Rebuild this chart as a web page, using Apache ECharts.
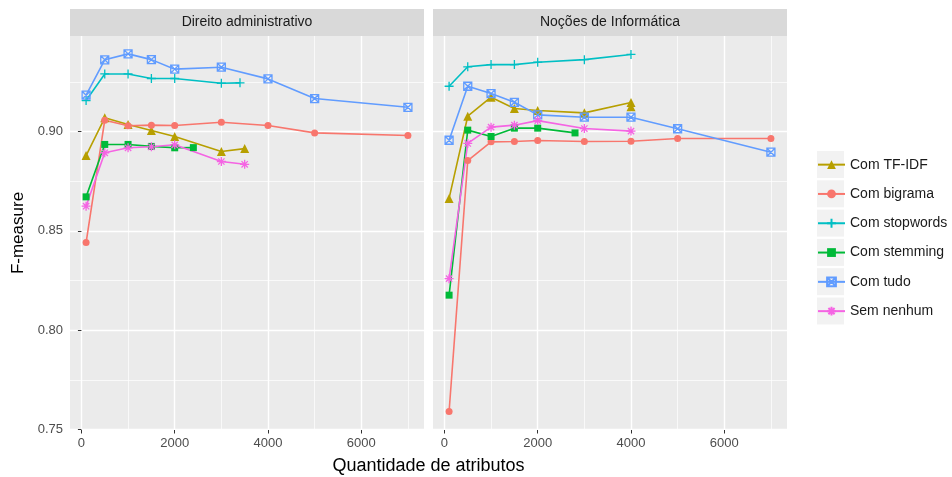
<!DOCTYPE html>
<html>
<head>
<meta charset="utf-8">
<script src="https://cdn.jsdelivr.net/npm/echarts@6/dist/echarts.min.js"></script>
<style>
  html, body { margin: 0; padding: 0; background: #fff; }
  #chart { width: 952px; height: 477px; }
</style>
</head>
<body>
<div id="chart"></div>
<script>
// Facet titles, legend order and tick positions
const panels = ['Direito administrativo', 'Noções de Informática'];
const seriesNames = ['Com TF-IDF', 'Com bigrama', 'Com stopwords', 'Com stemming', 'Com tudo', 'Sem nenhum'];
const xMajorTicks = [0, 2000, 4000, 6000];
const xMinorTicks = [1000, 3000, 5000, 7000];
const yMajorTicks = [0.75, 0.80, 0.85, 0.90];
const yMinorTicks = [0.775, 0.825, 0.875, 0.925];

// Direito administrativo: [quantidade de atributos, F-measure]
const direitoTfidf = [[100, 0.8879], [500, 0.9069], [1000, 0.9035], [1500, 0.9005], [2000, 0.8975], [3000, 0.8899], [3500, 0.8914]];
const direitoBigrama = [[100, 0.8441], [500, 0.9057], [1000, 0.9029], [1500, 0.9032], [2000, 0.9030], [3000, 0.9047], [4000, 0.9030], [5000, 0.8993], [7000, 0.8980]];
const direitoStopwords = [[100, 0.9156], [500, 0.9290], [1000, 0.9290], [1500, 0.9267], [2000, 0.9267], [3000, 0.9243], [3400, 0.9245]];
const direitoStemming = [[100, 0.8671], [500, 0.8935], [1000, 0.8935], [1500, 0.8925], [2000, 0.8918], [2400, 0.8919]];
const direitoTudo = [[100, 0.9183], [500, 0.9361], [1000, 0.9391], [1500, 0.9362], [2000, 0.9314], [3000, 0.9324], [4000, 0.9265], [5000, 0.9166], [7000, 0.9122]];
const direitoNenhum = [[100, 0.8624], [500, 0.8893], [1000, 0.8918], [1500, 0.8923], [2000, 0.8933], [3000, 0.8849], [3500, 0.8835]];

// Noções de Informática
const nocoesTfidf = [[100, 0.8663], [500, 0.9077], [1000, 0.9173], [1500, 0.9116], [2000, 0.9106], [3000, 0.9094], [4000, 0.9146], [4000, 0.9125]];
const nocoesBigrama = [[100, 0.7590], [500, 0.8854], [1000, 0.8948], [1500, 0.8950], [2000, 0.8955], [3000, 0.8950], [4000, 0.8951], [5000, 0.8965], [7000, 0.8965]];
const nocoesStopwords = [[100, 0.9228], [500, 0.9326], [1000, 0.9337], [1500, 0.9337], [2000, 0.9349], [3000, 0.9362], [4000, 0.9388]];
const nocoesStemming = [[100, 0.8176], [500, 0.9007], [1000, 0.8975], [1500, 0.9017], [2000, 0.9017], [2800, 0.8993]];
const nocoesTudo = [[100, 0.8956], [500, 0.9228], [1000, 0.9191], [1500, 0.9147], [2000, 0.9084], [3000, 0.9072], [4000, 0.9072], [5000, 0.9014], [7000, 0.8896]];
const nocoesNenhum = [[100, 0.8259], [500, 0.8940], [1000, 0.9022], [1500, 0.9032], [2000, 0.9055], [3000, 0.9015], [4000, 0.9002]];

const panelData = [
  [direitoTfidf, direitoBigrama, direitoStopwords, direitoStemming, direitoTudo, direitoNenhum],
  [nocoesTfidf, nocoesBigrama, nocoesStopwords, nocoesStemming, nocoesTudo, nocoesNenhum]
];

const colors = ['#B79F00', '#F8766D', '#00BFC4', '#00BA38', '#619CFF', '#F564E3'];
const FONT = '"Liberation Sans", Arial, sans-serif';

// marker styles per series (ggplot-like shapes)
const markers = [
  { symbol: 'triangle', size: 9, outline: false },
  { symbol: 'circle', size: 7, outline: false },
  { symbol: 'path://M5,0L5,10M0,5L10,5', size: 9, outline: true },
  { symbol: 'rect', size: 7, outline: false },
  { symbol: 'path://M0,0L10,0L10,10L0,10ZM0,0L10,10M10,0L0,10', size: 8, outline: true },
  { symbol: 'path://M5,0L5,10M0,5L10,5M1.5,1.5L8.5,8.5M8.5,1.5L1.5,8.5', size: 9, outline: true }
];

const X_MIN = -245, X_MAX = 7345;
const Y_MIN = 0.7497, Y_MAX = 0.9481;

const gridLeft = [70, 433];
const gridTop = 36, gridW = 354, gridH = 394;

const grids = [], xAxes = [], yAxes = [], series = [];
panels.forEach((p, i) => {
  grids.push({ left: gridLeft[i], top: gridTop, width: gridW, height: gridH, show: true, backgroundColor: '#EBEBEB', borderWidth: 0 });
  grids.push({ left: gridLeft[i], top: gridTop, width: gridW, height: gridH, show: false });
});

panels.forEach((p, i) => {
  const gMajor = i * 2, gMinor = i * 2 + 1;
  // minor grid axes
  xAxes.push({
    gridIndex: gMinor, type: 'value', min: X_MIN, max: X_MAX,
    axisLine: { show: false }, axisLabel: { show: false },
    axisTick: { show: false, customValues: xMinorTicks },
    splitLine: { show: true, lineStyle: { color: '#FFFFFF', width: 0.7 } }, z: 0
  });
  yAxes.push({
    gridIndex: gMinor, type: 'value', min: Y_MIN, max: Y_MAX,
    axisLine: { show: false }, axisLabel: { show: false },
    axisTick: { show: false, customValues: yMinorTicks },
    splitLine: { show: true, lineStyle: { color: '#FFFFFF', width: 0.7 } }, z: 0
  });
  // major axes with ticks and labels
  xAxes.push({
    gridIndex: gMajor, type: 'value', min: X_MIN, max: X_MAX,
    axisLine: { show: false },
    axisTick: { show: true, length: 3.5, customValues: xMajorTicks, lineStyle: { color: '#333333', width: 1 } },
    axisLabel: { show: true, customValues: xMajorTicks, color: '#4D4D4D', fontSize: 13, fontFamily: FONT, margin: 7,
      formatter: v => String(v) },
    splitLine: { show: true, lineStyle: { color: '#FFFFFF', width: 1.4 } }
  });
  yAxes.push({
    gridIndex: gMajor, type: 'value', min: Y_MIN, max: Y_MAX,
    axisLine: { show: false },
    axisTick: { show: i === 0, length: 3.5, customValues: yMajorTicks, lineStyle: { color: '#333333', width: 1 } },
    axisLabel: { show: i === 0, customValues: yMajorTicks, color: '#4D4D4D', fontSize: 13, fontFamily: FONT, margin: 7,
      formatter: v => v.toFixed(2) },
    splitLine: { show: true, lineStyle: { color: '#FFFFFF', width: 1.4 } }
  });
});

// axes are ordered [minor0, major0, minor1, major1]
panels.forEach((p, i) => {
  const axisIdx = i * 2 + 1;
  panelData[i].forEach((data, k) => {
    const m = markers[k];
    series.push({
      name: seriesNames[k],
      type: 'line',
      xAxisIndex: axisIdx,
      yAxisIndex: axisIdx,
      data: data,
      symbol: m.symbol,
      symbolSize: m.size,
      showAllSymbol: true,
      animation: false,
      lineStyle: { color: colors[k], width: 1.6 },
      itemStyle: m.outline
        ? { color: 'rgba(0,0,0,0)', borderColor: colors[k], borderWidth: 1.3 }
        : { color: colors[k], borderWidth: 0 },
      emphasis: { disabled: true },
      z: 3
    });
  });
});

// legend key backgrounds
const keyTop = 151, keyStep = 29.3, keyLeft = 817, keySize = 27;
const keyRects = seriesNames.map((n, k) => ({
  type: 'rect', left: keyLeft, top: keyTop + k * keyStep, z: 0,
  shape: { width: keySize, height: keySize }, style: { fill: '#F2F2F2' }, silent: true
}));

const stripTop = 9;
const stripRects = panels.map((p, i) => ({
  type: 'rect', left: gridLeft[i], top: stripTop, z: 1,
  shape: { width: gridW, height: gridTop - stripTop }, style: { fill: '#D9D9D9' }, silent: true
}));
const stripTexts = panels.map((p, i) => ({
  type: 'text', x: gridLeft[i] + gridW / 2, y: stripTop + (gridTop - stripTop) / 2, z: 2,
  style: { text: p, fill: '#1A1A1A', font: '14px ' + FONT, align: 'center', verticalAlign: 'middle' }, silent: true
}));

const chart = echarts.init(document.getElementById('chart'), null, { renderer: 'canvas' });
chart.setOption({
  backgroundColor: '#FFFFFF',
  animation: false,
  grid: grids,
  xAxis: xAxes,
  yAxis: yAxes,
  legend: {
    orient: 'vertical',
    left: keyLeft, top: keyTop + 4,
    padding: 0,
    itemWidth: keySize, itemHeight: 11,
    itemGap: keyStep - 19.3,
    data: seriesNames,
    selectedMode: false,
    textStyle: { color: '#1A1A1A', fontSize: 14, fontFamily: FONT, lineHeight: 19.3 }
  },
  graphic: [
    ...keyRects, ...stripRects, ...stripTexts,
    { type: 'text', x: 18, y: gridTop + gridH / 2, rotation: Math.PI / 2, z: 2,
      style: { text: 'F-measure', fill: '#000', font: '17px ' + FONT, align: 'center', verticalAlign: 'middle' } },
    { type: 'text', x: (gridLeft[0] + gridLeft[1] + gridW) / 2, y: 466, z: 2,
      style: { text: 'Quantidade de atributos', fill: '#000', font: '18px ' + FONT, align: 'center', verticalAlign: 'middle' } }
  ],
  series: series
});
</script>
</body>
</html>
